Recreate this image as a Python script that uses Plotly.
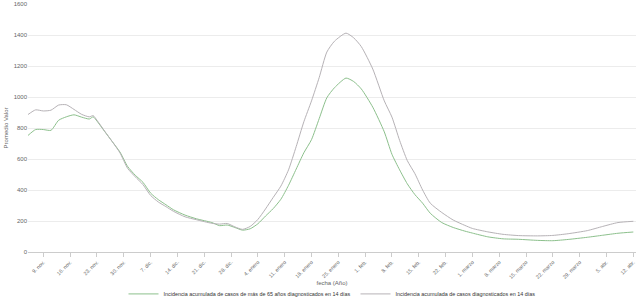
import plotly.graph_objects as go
import pandas as pd

start = pd.Timestamp("2020-11-05")
days = [0, 2, 4, 6, 8, 10, 12, 14, 16, 17, 18, 20, 22, 24, 26, 28, 30, 32, 34, 36,
        38, 41, 44, 48, 50, 52, 54, 56, 58, 60, 62, 64, 66, 68, 70, 72, 74, 76, 78,
        80, 83, 85, 87, 90, 93, 95, 97, 99, 101, 103, 105, 108, 111, 114, 116, 120,
        124, 128, 133, 137, 141, 146, 150, 154, 158]
dates = [start + pd.Timedelta(days=d) for d in days]

total_14d = [887, 917, 910, 915, 948, 950, 920, 888, 872, 880, 850, 780, 712, 640,
             540, 485, 435, 365, 323, 293, 262, 227, 208, 185, 180, 184, 162, 146,
             165, 210, 278, 352, 425, 530, 680, 840, 975, 1125, 1290, 1360, 1412,
             1382, 1325, 1180, 975, 870, 720, 590, 505, 400, 315, 255, 206, 172, 152,
             130, 114, 106, 104, 107, 118, 138, 165, 190, 198]

over65_14d = [752, 790, 790, 785, 850, 872, 885, 870, 858, 872, 845, 778, 712, 645,
              552, 495, 450, 380, 338, 305, 272, 238, 214, 190, 170, 174, 158, 141,
              150, 182, 232, 280, 340, 430, 535, 640, 725, 860, 995, 1060, 1122, 1100,
              1052, 934, 775, 630, 530, 440, 370, 315, 250, 190, 158, 135, 122, 98, 85,
              82, 75, 73, 81, 95, 108, 121, 129]

tick_dates = ["2020-11-09", "2020-11-16", "2020-11-23", "2020-11-30", "2020-12-07",
              "2020-12-14", "2020-12-21", "2020-12-28", "2021-01-04", "2021-01-11",
              "2021-01-18", "2021-01-25", "2021-02-01", "2021-02-08", "2021-02-15",
              "2021-02-22", "2021-03-01", "2021-03-08", "2021-03-15", "2021-03-22",
              "2021-03-29", "2021-04-05", "2021-04-12"]
tick_labels = ["9. nov.", "16. nov.", "23. nov.", "30. nov.", "7. dic.", "14. dic.",
               "21. dic.", "28. dic.", "4. enero", "11. enero", "18. enero", "25. enero",
               "1. feb.", "8. feb.", "15. feb.", "22. feb.", "1. marzo", "8. marzo",
               "15. marzo", "22. marzo", "29. marzo", "5. abr.", "12. abr."]

y_ticks = [0, 200, 400, 600, 800, 1000, 1200, 1400, 1600]

series_names = ["Incidencia acumulada de casos de más de 65 años diagnosticados en 14 días",
                "Incidencia acumulada de casos diagnosticados en 14 días"]

fig = go.Figure()
fig.add_trace(go.Scatter(x=dates, y=over65_14d, mode="lines", name=series_names[0],
                         line=dict(color="#8cc08c", width=1, shape="spline", smoothing=0.6)))
fig.add_trace(go.Scatter(x=dates, y=total_14d, mode="lines", name=series_names[1],
                         line=dict(color="#b6b2b6", width=1, shape="spline", smoothing=0.6)))

font = dict(family="Liberation Sans, Arial, sans-serif", size=6, color="#666666")
tick_font = dict(family="Liberation Sans, Arial, sans-serif", size=5.3, color="#666666")

fig.update_layout(
    width=640, height=299,
    margin=dict(l=28, r=4, t=4, b=47, autoexpand=False),
    paper_bgcolor="white", plot_bgcolor="white",
    font=font,
    showlegend=True,
    legend=dict(orientation="h", x=0.5, xanchor="center", y=-0.169, yanchor="middle",
                font=dict(family="Liberation Sans, Arial, sans-serif", size=5.4, color="#333333"),
                itemwidth=30, tracegroupgap=0),
    xaxis=dict(
        range=[start, start + pd.Timedelta(days=158.7)],
        tickmode="array", tickvals=tick_dates, ticktext=tick_labels,
        tickangle=-45, ticks="outside", ticklen=4, tickcolor="#cccccc",
        showline=True, linecolor="#cccccc", linewidth=1,
        showgrid=False, zeroline=False, automargin=False,
        tickfont=tick_font,
        title=dict(text="fecha (Año)", font=font, standoff=1),
    ),
    yaxis=dict(
        range=[0, 1600], tickmode="array", tickvals=y_ticks,
        ticktext=[str(v) for v in y_ticks],
        showgrid=True, gridcolor="#ececec", gridwidth=1,
        zeroline=False, showline=False, ticks="", automargin=False,
        tickfont=font,
        title=dict(text="Promedio Valor", font=font, standoff=4),
    ),
)

fig.write_html("out.html")
